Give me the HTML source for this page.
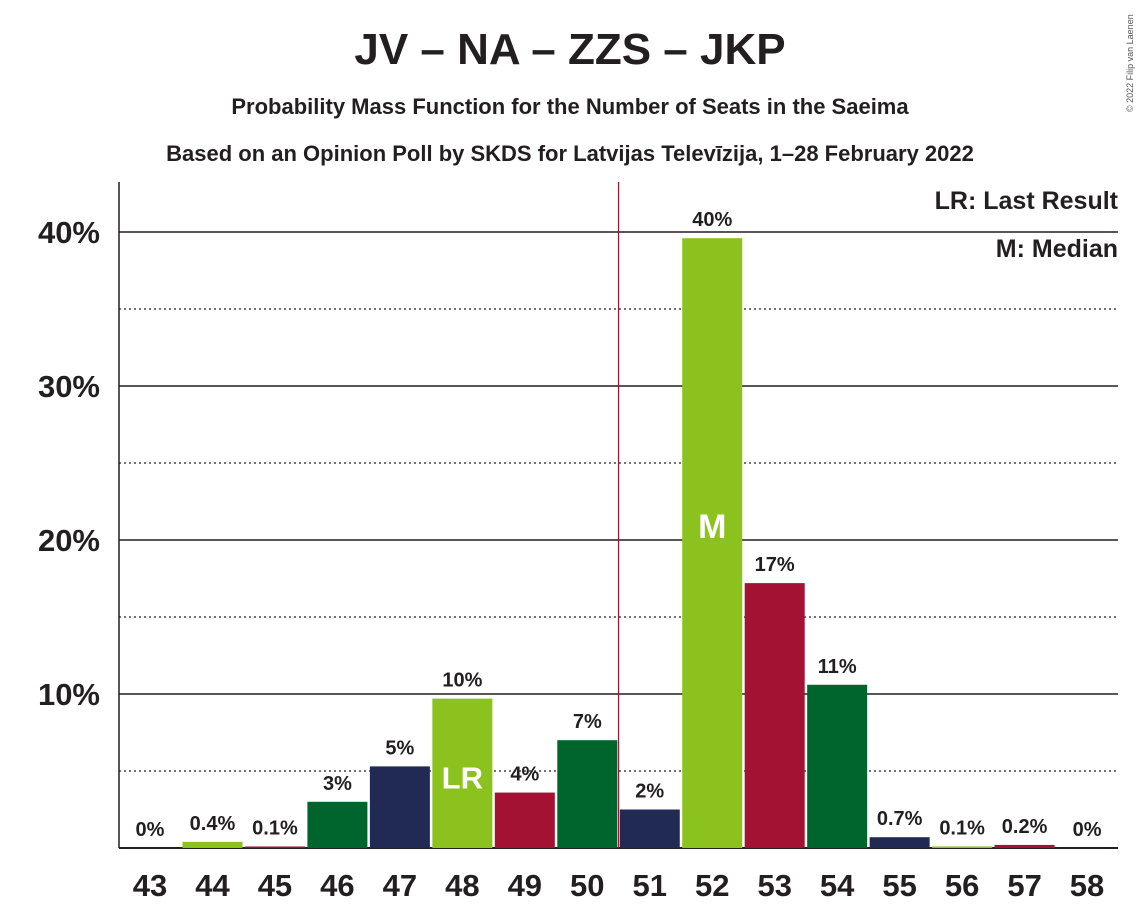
<!DOCTYPE html>
<html><head><meta charset="utf-8"><style>
body{margin:0;background:#fff;}
svg{display:block;font-family:"Liberation Sans",sans-serif;font-weight:bold;}
</style></head><body>
<svg id="chart" width="1139" height="924" viewBox="0 0 1139 924" xmlns="http://www.w3.org/2000/svg">
<text x="570" y="64" text-anchor="middle" font-size="44" fill="#231f20">JV – NA – ZZS – JKP</text>
<text x="570" y="114" text-anchor="middle" font-size="22" fill="#231f20">Probability Mass Function for the Number of Seats in the Saeima</text>
<text x="570" y="161" text-anchor="middle" font-size="22" fill="#231f20">Based on an Opinion Poll by SKDS for Latvijas Televīzija, 1–28 February 2022</text>
<text transform="translate(1133,112) rotate(-90)" font-size="9" font-weight="normal" fill="#555">© 2022 Filip van Laenen</text>
<g id="grid"></g>
<g id="bars"></g>
<g id="labels"></g>
<text x="1118" y="209" text-anchor="end" font-size="25" fill="#231f20">LR: Last Result</text>
<text x="1118" y="257" text-anchor="end" font-size="25" fill="#231f20">M: Median</text>
</svg>
<script>
const seats = [43,44,45,46,47,48,49,50,51,52,53,54,55,56,57,58];
const probs = [0,0.4,0.1,3.0,5.3,9.7,3.6,7.0,2.5,39.6,17.2,10.6,0.7,0.1,0.2,0];
const valueLabels = ["0%","0.4%","0.1%","3%","5%","10%","4%","7%","2%","40%","17%","11%","0.7%","0.1%","0.2%","0%"];
const yTicks = [10,20,30,40];
const yMinor = [5,15,25,35];
const lastResultSeat = 48;
const medianSeat = 52;
const palette = ["#8bc21e","#a31232","#00652d","#212a52"];
const NS="http://www.w3.org/2000/svg";
const x0=119, x1=1118, base=848, pxPer=15.4;
const step=62.47, c0=150, bw=60;
const xs = s => c0 + (s-43)*step;
const ys = v => base - v*pxPer;
function mk(tag, attrs, parent){const e=document.createElementNS(NS,tag);for(const k in attrs)e.setAttribute(k,attrs[k]);parent.appendChild(e);return e;}
const grid=document.getElementById('grid'), bars=document.getElementById('bars'), labels=document.getElementById('labels');
yMinor.forEach(v=>{const l=mk('line',{x1:x0,x2:x1,y1:ys(v),y2:ys(v),stroke:'#231f20','stroke-width':1.2,'stroke-dasharray':'2,3'},grid);

});
yTicks.forEach(v=>{const l=mk('line',{x1:x0,x2:x1,y1:ys(v),y2:ys(v),stroke:'#231f20','stroke-width':1.5},grid);


const t=mk('text',{x:100,y:ys(v)+11,'text-anchor':'end','font-size':31,fill:'#231f20'},grid);t.textContent=v+'%';

});
const ax=mk('line',{x1:x0,x2:x0,y1:182,y2:base,stroke:'#231f20','stroke-width':1.5},grid);


const bl=mk('line',{x1:x0,x2:x1,y1:base,y2:base,stroke:'#231f20','stroke-width':2},grid);


const mx=(xs(medianSeat-1)+xs(medianSeat-2))/2;
const ml=mk('line',{x1:mx,x2:mx,y1:182,y2:base,stroke:'#a31232','stroke-width':1.2},grid);


seats.forEach((s,i)=>{
  const v=probs[i], col=palette[(s-44+400)%4];
  if(v>0){const r=mk('rect',{x:xs(s)-bw/2,y:ys(v),width:bw,height:v*pxPer,fill:col},bars);
  
  }
  const t=mk('text',{x:xs(s),y:ys(v)-12,'text-anchor':'middle','font-size':20,fill:'#231f20'},labels);t.textContent=valueLabels[i];
  
  
  const xt=mk('text',{x:xs(s),y:896,'text-anchor':'middle','font-size':31,fill:'#231f20'},labels);xt.textContent=s;
  
  
  if(s===lastResultSeat){const lr=mk('text',{x:xs(s),y:ys(v)+Math.min(v*pxPer-10,90),'text-anchor':'middle','font-size':31,fill:'#fff'},labels);lr.textContent='LR';
  
  }
  if(s===medianSeat){const m=mk('text',{x:xs(s),y:ys(v)+(v*pxPer)/2-5,'text-anchor':'middle','font-size':34,fill:'#fff'},labels);m.textContent='M';
  
  }
});
</script>
</body></html>
